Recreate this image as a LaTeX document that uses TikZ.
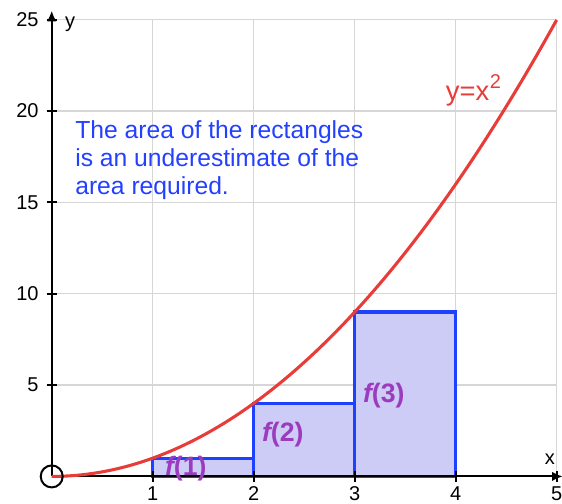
\documentclass[tikz,border=0pt]{standalone}
\usepackage{fontspec}
\setmainfont{Liberation Sans}
\usetikzlibrary{arrows.meta}
\definecolor{gridgrey}{RGB}{214,214,214}
\definecolor{curvered}{RGB}{232,60,56}
\definecolor{rectblue}{RGB}{30,64,255}
\definecolor{rectfill}{RGB}{204,204,246}
\definecolor{textblue}{RGB}{36,64,255}
\definecolor{fpurple}{RGB}{155,60,190}
\begin{document}
\begin{tikzpicture}[x=75.75pt,y=13.70pt,
  gridline/.style={draw=gridgrey,line width=0.9pt},
  rectbar/.style={draw=rectblue,fill=rectfill,line width=2.3pt},
  axisline/.style={draw=black,line width=1.5pt},
  axisarrow/.style={axisline,-{Latex[length=8pt,width=7pt]}},
  tickmark/.style={draw=black,line width=1.5pt},
  curveline/.style={draw=curvered,line width=2.3pt},
  ticklabel/.style={inner sep=0pt,font=\fontsize{15}{18}\selectfont},
  axislabel/.style={inner sep=0pt,font=\fontsize{15}{18}\selectfont,anchor=base west},
  notetext/.style={inner sep=0pt,text=textblue,align=left,anchor=north west,font=\fontsize{18.5}{21}\selectfont},
  curvelabel/.style={inner sep=0pt,text=curvered,anchor=base west,font=\fontsize{20.5}{24}\selectfont},
  flabel/.style={inner sep=0pt,text=fpurple,anchor=base west,font=\fontsize{20}{24}\selectfont\bfseries}
]
\useasboundingbox (-0.512,-1.505) rectangle (5.052,26.08);
% grid
\foreach \i in {1,...,5} \draw[gridline] (\i,0) -- (\i,25);
\foreach \j in {5,10,...,25} \draw[gridline] (0,\j) -- (5,\j);
% rectangles
\draw[rectbar] (1,0) rectangle (2,1);
\draw[rectbar] (2,0) rectangle (3,4);
\draw[rectbar] (3,0) rectangle (4,9);
% axes
\coordinate (O) at (0,0);
\coordinate (xend) at (5.06,0);
\coordinate (yend) at (0,25.5);
\draw[axisarrow] (O) -- (xend);
\draw[axisarrow] (O) -- (yend);
% ticks and tick labels
\foreach \i in {1,...,5} {
  \draw[tickmark] (\i,-0.28) -- (\i,0.28);
  \node[ticklabel,anchor=north] (xl\i) at (\i,-0.55) {\i};
}
\foreach \j in {5,10,...,25} {
  \draw[tickmark] (-0.05,\j) -- (0.05,\j);
  \node[ticklabel,anchor=east] (yl\j) at (-0.128,\j) {\j};
}
\node[axislabel] (ylab) at (0.13,24.55) {y};
\node[axislabel] (xlab) at (4.88,0.63) {x};
% curve
\draw[curveline] plot[domain=0:5,samples=120] (\x,{\x*\x});
% origin circle
\node[circle,draw=black,line width=1.5pt,inner sep=0pt,minimum size=16.5pt] (origin) at (O) {};
% labels
\node[curvelabel] (curvelab) at (3.90,20.6) {y=x\kern0.5pt\raisebox{0.42em}{\fontsize{15}{18}\selectfont 2}};
\node[notetext] (note) at (0.231,19.51) {The area of the rectangles\\is an underestimate of the\\area required.};
\node[flabel] (f1) at (1.12,0.05) {{\itshape f}(1)};
\node[flabel] (f2) at (2.08,1.905) {{\itshape f}(2)};
\node[flabel] (f3) at (3.08,4.06) {{\itshape f}(3)};
\end{tikzpicture}
\end{document}
